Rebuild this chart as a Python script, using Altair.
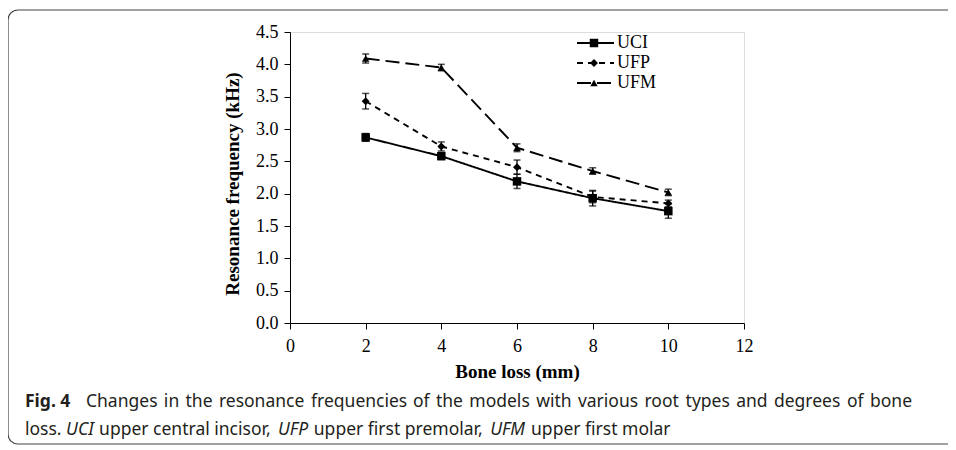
import altair as alt
import pandas as pd

# ---------------- data ----------------
bone_loss = [2, 4, 6, 8, 10]
series = ["UCI", "UFP", "UFM"]
uci = [2.87, 2.58, 2.19, 1.93, 1.73]
uci_err = [0.06, 0.05, 0.11, 0.12, 0.11]
ufp = [3.43, 2.73, 2.41, 1.95, 1.85]
ufp_err = [0.12, 0.07, 0.11, 0.09, 0.05]
ufm = [4.09, 3.95, 2.71, 2.35, 2.02]
ufm_err = [0.07, 0.05, 0.06, 0.05, 0.05]
x_ticks = [0, 2, 4, 6, 8, 10, 12]
y_ticks = [0.0, 0.5, 1.0, 1.5, 2.0, 2.5, 3.0, 3.5, 4.0, 4.5]

x_title = "Bone loss (mm)"
y_title = "Resonance frequency (kHz)"
cap_bold = "Fig. 4"
cap_line1 = "Changes in the resonance frequencies of the models with various root types and degrees of bone"
cap_line2 = ["loss.", "UCI", "upper central incisor,", "UFP", "upper first premolar,", "UFM", "upper first molar"]
cap_line2_italic = [False, True, False, True, False, True, False]

# ---------------- layout (pixels) ----------------
PAD_L, PAD_T = 282, 24
W, H = 454, 291
SVG_W, SVG_H = 940, 438
OX, OY = PAD_L + 8, PAD_T + 8          # page position of plot origin

CAP_FONT = "Noto Sans"
CAP_SIZE = 17.5
CAP_COLOR = "#231f20"
# approximate advance widths of Noto Sans (units per 1000 em) for caption layout
ADV = {' ': 260, ',': 250, '.': 268, 'a': 561, 'b': 615, 'c': 480, 'd': 615, 'e': 564, 'f': 344,
       'g': 615, 'h': 618, 'i': 258, 'l': 258, 'm': 937, 'n': 618, 'o': 605, 'p': 615, 'r': 413,
       's': 479, 't': 361, 'u': 618, 'v': 508, 'w': 786, 'y': 510, 'C': 632, 'U': 733, 'F': 525,
       'P': 603, 'M': 907, 'I': 329}


def tw(s, size, k=1.0):
    return sum(ADV.get(c, 560) for c in s) * size / 1000.0 * k


cap_x0 = 25                          # caption left edge (page px)
line1_start, line1_end = 86, 912     # justified first line after "Fig. 4"
cap_y1, cap_y2 = 407, 435            # baselines (page px)

rows = []
for name, vals, errs in [("UCI", uci, uci_err), ("UFP", ufp, ufp_err), ("UFM", ufm, ufm_err)]:
    for xv, yv, ev in zip(bone_loss, vals, errs):
        rows.append({"series": name, "x": xv, "y": yv, "lo": yv - ev, "hi": yv + ev})
df = pd.DataFrame(rows)
leg = pd.DataFrame({"series": series})

SERIF = "Liberation Serif"
dash_scale = alt.Scale(domain=series, range=[[1, 0], [6, 5], [14, 6]])
shape_scale = alt.Scale(domain=series, range=["square", "diamond", "triangle-up"])
size_scale = alt.Scale(domain=series, range=[72, 55, 72])

xs = alt.Scale(domain=[0, 12], nice=False, zero=False)
ys = alt.Scale(domain=[0, 4.5], nice=False, zero=False)

x_axis = alt.Axis(values=x_ticks, format="d", grid=False, domainColor="black", tickColor="black",
                  tickSize=6, labelFont=SERIF, labelFontSize=18, labelColor="black", labelPadding=8,
                  labelOverlap=False, labelFlush=False,
                  title=x_title, titleFont=SERIF, titleFontSize=19, titleFontWeight="bold",
                  titleColor="black", titleBaseline="alphabetic", titleY=54, titleX=W / 2)
y_axis = alt.Axis(values=y_ticks, format=".1f", grid=False, domainColor="black", tickColor="black",
                  tickSize=6, labelFont=SERIF, labelFontSize=18, labelColor="black", labelPadding=6,
                  labelOverlap=False, labelFlush=False, tickCount=10,
                  title=y_title, titleFont=SERIF, titleFontSize=19, titleFontWeight="bold",
                  titleColor="black", titleBaseline="alphabetic", titleAngle=270,
                  titleX=238 - OX, titleY=183.5 - OY)

X = alt.X("x:Q", scale=xs, axis=x_axis)

base = alt.Chart(df)
lines = base.mark_line(color="black", strokeWidth=1.9).encode(
    x=X,
    y=alt.Y("y:Q", scale=ys, axis=y_axis),
    strokeDash=alt.StrokeDash("series:N", scale=dash_scale, legend=None),
    detail="series:N",
)
err_rule = base.mark_rule(color="black", strokeWidth=1.3).encode(
    x=X, y=alt.Y("lo:Q", scale=ys, axis=y_axis), y2="hi:Q")
err_lo = base.mark_tick(color="black", orient="horizontal", size=7, thickness=1.5).encode(
    x=X, y=alt.Y("lo:Q", scale=ys, axis=y_axis))
err_hi = base.mark_tick(color="black", orient="horizontal", size=7, thickness=1.5).encode(
    x=X, y=alt.Y("hi:Q", scale=ys, axis=y_axis))
points = base.mark_point(filled=True, color="black", opacity=1).encode(
    x=X, y=alt.Y("y:Q", scale=ys, axis=y_axis),
    shape=alt.Shape("series:N", scale=shape_scale, legend=None),
    size=alt.Size("series:N", scale=size_scale, legend=None),
)
main = alt.layer(lines, err_rule, err_lo, err_hi, points)

ly = alt.Y("series:N", scale=alt.Scale(type="point", domain=series, range=[43 - OY, 83 - OY], padding=0),
           axis=None)
lbase = alt.Chart(leg)
leg_line = lbase.mark_rule(color="black", strokeWidth=1.9).encode(
    x=alt.value(577 - OX), x2=alt.value(614 - OX), y=ly,
    strokeDash=alt.StrokeDash("series:N", scale=dash_scale, legend=None))
leg_pt = lbase.mark_point(filled=True, color="black", opacity=1).encode(
    x=alt.value(594 - OX), y=ly,
    shape=alt.Shape("series:N", scale=shape_scale, legend=None),
    size=alt.Size("series:N", scale=size_scale, legend=None))
leg_txt = lbase.mark_text(align="left", baseline="middle", font=SERIF, fontSize=18, color="black").encode(
    x=alt.value(617 - OX), y=ly, text="series:N")
legend = alt.layer(leg_line, leg_pt, leg_txt)

one = alt.Chart(pd.DataFrame({"k": [0]}))
frame = one.mark_rect(fill="white", fillOpacity=0, stroke="#444", strokeWidth=1.2, cornerRadius=10).encode(
    x=alt.value(8 - OX), x2=alt.value(1000 - OX), y=alt.value(10 - OY), y2=alt.value(444 - OY))


def cap_text(txt, px, py, **kw):
    return one.mark_text(text=txt, align="left", baseline="alphabetic", font=CAP_FONT,
                         fontSize=CAP_SIZE, color=CAP_COLOR, **kw).encode(
        x=alt.value(px - OX), y=alt.value(py - OY))


caps = [cap_text(cap_bold, cap_x0, cap_y1, fontWeight="bold")]
words = cap_line1.split(" ")
natural = sum(tw(w_, CAP_SIZE) for w_ in words)
gap = (line1_end - line1_start - natural) / (len(words) - 1)
px = line1_start
for w_ in words:
    caps.append(cap_text(w_, px, cap_y1))
    px += tw(w_, CAP_SIZE) + gap

px = cap_x0
space = tw(" ", CAP_SIZE)
for seg, it in zip(cap_line2, cap_line2_italic):
    if it:
        caps.append(cap_text(seg, px, cap_y2, fontStyle="italic"))
        px += tw(seg, CAP_SIZE, 0.96) + space
    else:
        caps.append(cap_text(seg, px, cap_y2))
        px += tw(seg, CAP_SIZE) + space

chart = alt.layer(frame, main, legend, *caps).resolve_scale(y="independent").properties(
    width=W, height=H,
    padding={"left": PAD_L, "top": PAD_T, "right": SVG_W - PAD_L - W, "bottom": SVG_H - PAD_T - H},
    autosize=alt.AutoSizeParams(type="none"),
).configure_view(stroke=None).configure(background="white")

chart.save("out.html", embed_options={"renderer": "svg", "actions": False})
